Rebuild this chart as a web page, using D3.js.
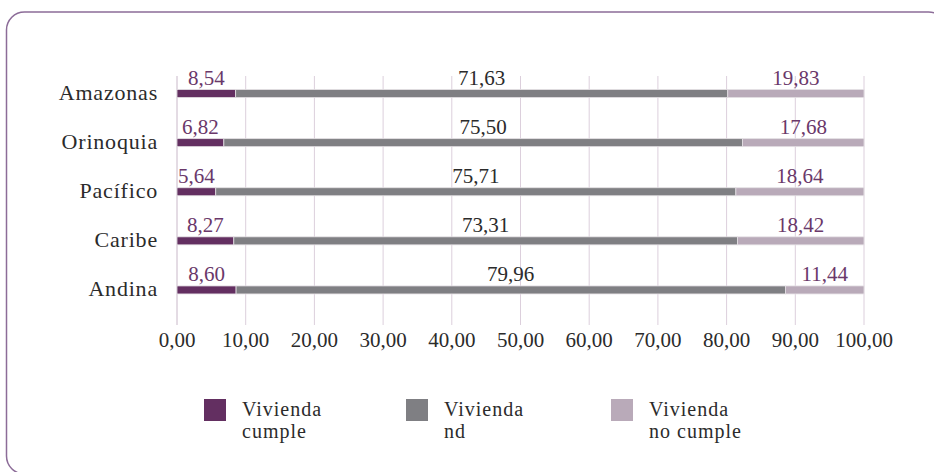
<!DOCTYPE html>
<html>
<head>
<meta charset="utf-8">
<style>
body { margin: 0; background: #fff; }
text { font-family: "Liberation Serif", "Times New Roman", serif; }
</style>
</head>
<body>
<script src="https://cdn.jsdelivr.net/npm/d3@7"></script>
<script>

// data
var regions = ["Amazonas", "Orinoquia", "Pacífico", "Caribe", "Andina"];
var cumple   = [8.54, 6.82, 5.64, 8.27, 8.60];
var nd       = [71.63, 75.50, 75.71, 73.31, 79.96];
var noCumple = [19.83, 17.68, 18.64, 18.42, 11.44];
var ticks = [0, 10, 20, 30, 40, 50, 60, 70, 80, 90, 100];
var seriesNames = [["Vivienda", "cumple"], ["Vivienda", "nd"], ["Vivienda", "no cumple"]];

var colors = ["#632f61", "#7f7f83", "#b9aab9"];
var labelColors = ["#6a386a", "#2b2b2b", "#6a386a"];

var width = 934, height = 472;

var svg = d3.select("body").append("svg")
    .attr("width", width)
    .attr("height", height);

// rounded frame
svg.append("rect")
    .attr("x", 6.5).attr("y", 12)
    .attr("width", 940).attr("height", 462)
    .attr("rx", 18).attr("ry", 18)
    .style("fill", "none")
    .style("stroke", "#8c6c98")
    .style("stroke-width", 1.5);

var x = d3.scaleLinear().domain([0, 100]).range([177, 864]);
var y = d3.scaleBand().domain(regions).range([69, 314.5]);

var rows = regions.map(function(r, i) {
  return {region: r, cumple: cumple[i], nd: nd[i], noCumple: noCumple[i]};
});
var keys = ["cumple", "nd", "noCumple"];
var stack = d3.stack().keys(keys)(rows);

// gridlines
svg.append("g")
  .selectAll("line")
  .data(ticks)
  .enter().append("line")
    .attr("x1", function(d) { return x(d); })
    .attr("x2", function(d) { return x(d); })
    .attr("y1", 76)
    .attr("y2", 325)
    .style("stroke", function(d) { return d == 0 ? "#c9b8c9" : "#dccfdc"; })
    .style("stroke-width", 1);

// x tick labels
svg.append("g")
  .selectAll("text")
  .data(ticks)
  .enter().append("text")
    .attr("x", function(d) { return x(d); })
    .attr("y", 347)
    .attr("text-anchor", "middle")
    .style("font-size", "21px")
    .style("fill", "#2b2b2b")
    .text(function(d) { return d3.format(".2f")(d).replace(".", ","); });

// category labels
svg.append("g")
  .selectAll("text")
  .data(regions)
  .enter().append("text")
    .attr("x", 158)
    .attr("y", function(d) { return y(d) + y.bandwidth() / 2 + 6.5; })
    .attr("text-anchor", "end")
    .style("font-size", "22px")
    .style("letter-spacing", "0.8px")
    .style("fill", "#2b2b2b")
    .text(function(d) { return d; });

var barH = 8;

// bars
var layer = svg.append("g")
  .selectAll("g")
  .data(stack)
  .enter().append("g")
    .style("fill", function(d, i) { return colors[i]; });

layer.selectAll("rect")
  .data(function(d) { return d; })
  .enter().append("rect")
    .attr("x", function(d) { return x(d[0]); })
    .attr("width", function(d) { return x(d[1]) - x(d[0]); })
    .attr("y", function(d) { return y(d.data.region) + y.bandwidth() / 2 - barH / 2; })
    .attr("height", barH)
    .style("stroke", "#e4e0e4")
    .style("stroke-width", 0.8);

// value labels
var labels = svg.append("g")
  .selectAll("g")
  .data(stack)
  .enter().append("g")
    .style("fill", function(d, i) { return labelColors[i]; });

labels.selectAll("text")
  .data(function(d) { return d.map(function(p) { return {p: p, key: d.key}; }); })
  .enter().append("text")
    .attr("x", function(d) { return x((d.p[0] + d.p[1]) / 2); })
    .attr("y", function(d) { return y(d.p.data.region) + y.bandwidth() / 2 - barH / 2 - 5; })
    .attr("text-anchor", "middle")
    .style("font-size", "21px")
    .text(function(d) { return d3.format(".2f")(d.p.data[d.key]).replace(".", ","); });

// legend
var legendX = [204, 406, 611];
var legend = svg.append("g")
  .selectAll("g")
  .data(seriesNames)
  .enter().append("g")
    .attr("transform", function(d, i) { return "translate(" + legendX[i] + ",399)"; });

legend.append("rect")
    .attr("width", 22)
    .attr("height", 22)
    .style("fill", function(d, i) { return colors[i]; });

legend.selectAll("text")
    .data(function(d) { return d; })
    .enter().append("text")
    .attr("x", 38)
    .attr("y", function(d, i) { return 17 + i * 21.5; })
    .style("font-size", "20px")
    .style("letter-spacing", "1px")
    .style("fill", "#2b2b2b")
    .text(function(d) { return d; });

</script>
</body>
</html>
